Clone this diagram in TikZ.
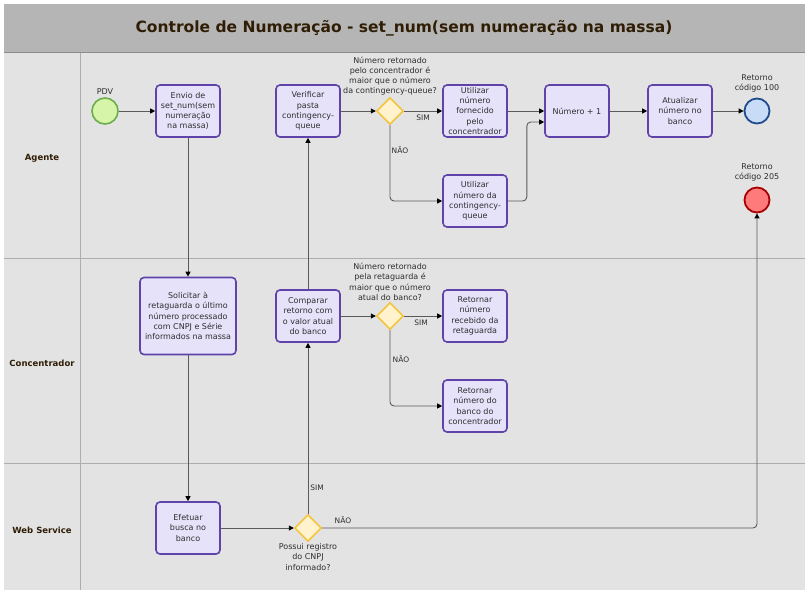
\documentclass[tikz,border=0pt]{standalone}
\usepackage{fontspec}
\setmainfont{DejaVu Sans}
\usetikzlibrary{shapes.geometric,arrows.meta}
\pgfdeclarelayer{bg}
\pgfsetlayers{bg,main}
\definecolor{taskfill}{HTML}{E6E2FA}
\definecolor{taskdraw}{HTML}{5F43A8}
\definecolor{gatefill}{HTML}{FFF2CC}
\definecolor{gatedraw}{HTML}{F2C230}
\definecolor{startfill}{HTML}{D6F5A8}
\definecolor{startdraw}{HTML}{6BAE4B}
\definecolor{okfill}{HTML}{C9DCF7}
\definecolor{okdraw}{HTML}{1F4C8F}
\definecolor{errfill}{HTML}{FF7A7A}
\definecolor{errdraw}{HTML}{A80000}
\definecolor{lanebg}{HTML}{E3E3E3}
\definecolor{titlebg}{HTML}{B5B5B5}
\definecolor{laneline}{HTML}{ADADAD}
\definecolor{titleline}{HTML}{8C8C8C}
\definecolor{flowline}{HTML}{5A5A5A}
\definecolor{txt}{HTML}{2E2E2E}
\definecolor{headtxt}{HTML}{2F1E05}
\tikzset{
    every node/.style={font=\fontsize{8}{10.3}\selectfont, text=txt, inner sep=0mm, align=center}
}
\tikzset{every label/.style={shape=rectangle, draw=none, fill=none, align=center, inner sep=0mm}}
\tikzset{
    task/.style={rectangle, rounded corners=4pt, draw=taskdraw, fill=taskfill, line width=1.6pt, minimum width=64pt, minimum height=52pt},
    gate/.style={diamond, draw=gatedraw, fill=gatefill, line width=1.4pt, minimum size=27pt},
    startev/.style={circle, draw=startdraw, fill=startfill, line width=1.6pt, minimum size=26pt},
    endev/.style={circle, line width=1.8pt, minimum size=25pt},
    flow/.style={draw=flowline, line width=0.9pt, rounded corners=4pt, -{Triangle[length=5pt, width=5pt, color=black]}},
    lanetitle/.style={font=\fontsize{8.5}{10}\selectfont\bfseries, text=headtxt},
    flowlabel/.style={font=\fontsize{7.5}{9}\selectfont}
}

\begin{document}
\begin{tikzpicture}[x=1pt, y=-1pt]
    \useasboundingbox (0,0) rectangle (809,595);

    \begin{pgfonlayer}{bg}
        \fill[white] (0,0) rectangle (809,595);
        \fill[lanebg] (4,52) rectangle (805,590);
        \fill[titlebg] (4,4) rectangle (805,52);
        \draw[laneline] (80,52) -- (80,590);
        \draw[laneline] (4,258) -- (805,258);
        \draw[laneline] (4,463) -- (805,463);
        \draw[titleline] (4,52) -- (805,52);
    \end{pgfonlayer}

    \node (title) at (404,28) [font=\fontsize{15.5}{18}\selectfont\bfseries, text=headtxt] {Controle de Numeração - set\_num(sem numeração na massa)};
    \node (agente) at (42,158) [lanetitle] {Agente};
    \node (conc) at (42,363) [lanetitle] {Concentrador};
    \node (ws) at (42,530) [lanetitle] {Web Service};

    \node (pdv) at (105,111) [startev, label={[label distance=3pt]above:PDV}] {};
    \node (envio) at (188,111) [task] {Envio de\\set\_num(sem\\numeração\\na massa)};
    \node (ver) at (308,111) [task] {Verificar\\pasta\\contingency-\\queue};
    \node (d1) at (390,111) [gate, label={[label distance=1pt]above:Número retornado\\pelo concentrador é\\maior que o número\\da contingency-queue?}] {};
    \node (uf) at (475,111) [task] {Utilizar\\número\\fornecido\\pelo\\concentrador};
    \node (uq) at (475,201) [task] {Utilizar\\número da\\contingency-\\queue};
    \node (n1) at (577,111) [task] {Número + 1};
    \node (atu) at (680,111) [task] {Atualizar\\número no\\banco};
    \node (r100) at (757,111) [endev, draw=okdraw, fill=okfill, label={[label distance=5pt]above:Retorno\\código 100}] {};
    \node (r205) at (757,200) [endev, draw=errdraw, fill=errfill, label={[label distance=5pt]above:Retorno\\código 205}] {};

    \node (sol) at (188,316) [task, minimum width=96pt, minimum height=77pt] {Solicitar à\\retaguarda o último\\número processado\\com CNPJ e Série\\informados na massa};
    \node (cmp) at (308,316) [task] {Comparar\\retorno com\\o valor atual\\do banco};
    \node (d2) at (390,316) [gate, label={[label distance=1pt]above:Número retornado\\pela retaguarda é\\maior que o número\\atual do banco?}] {};
    \node (rr) at (475,316) [task] {Retornar\\número\\recebido da\\retaguarda};
    \node (rb) at (475,406) [task] {Retornar\\número do\\banco do\\concentrador};

    \node (ef) at (188,528) [task] {Efetuar\\busca no\\banco};
    \node (d3) at (308,528) [gate, label={[label distance=1pt]below:Possui registro\\do CNPJ\\informado?}] {};

    \draw[flow] (pdv) -- (envio);
    \draw[flow] (envio) -- (sol);
    \draw[flow] (sol) -- (ef);
    \draw[flow] (ef) -- (d3);
    \draw[flow] (d3) -- (cmp);
    \draw[flow] (d3.east) -| (r205.south);
    \draw[flow] (cmp) -- (ver);
    \draw[flow] (ver) -- (d1);
    \draw[flow] (d1) -- (uf);
    \draw[flow] (d1.south) |- (uq.west);
    \draw[flow] (uf) -- (n1);
    \draw[flow] (uq.east) -- ++(19,0) |- ([yshift=-11pt]n1.west);
    \draw[flow] (n1) -- (atu);
    \draw[flow] (atu) -- (r100);
    \draw[flow] (cmp) -- (d2);
    \draw[flow] (d2) -- (rr);
    \draw[flow] (d2.south) |- (rb.west);

    \node (sim1) at (423,118) [flowlabel] {SIM};
    \node (nao1) at (400,150) [flowlabel] {NÃO};
    \node (sim2) at (421,323) [flowlabel] {SIM};
    \node (nao2) at (401,359) [flowlabel] {NÃO};
    \node (sim3) at (317,488) [flowlabel] {SIM};
    \node (nao3) at (343,520) [flowlabel] {NÃO};
\end{tikzpicture}
\end{document}
